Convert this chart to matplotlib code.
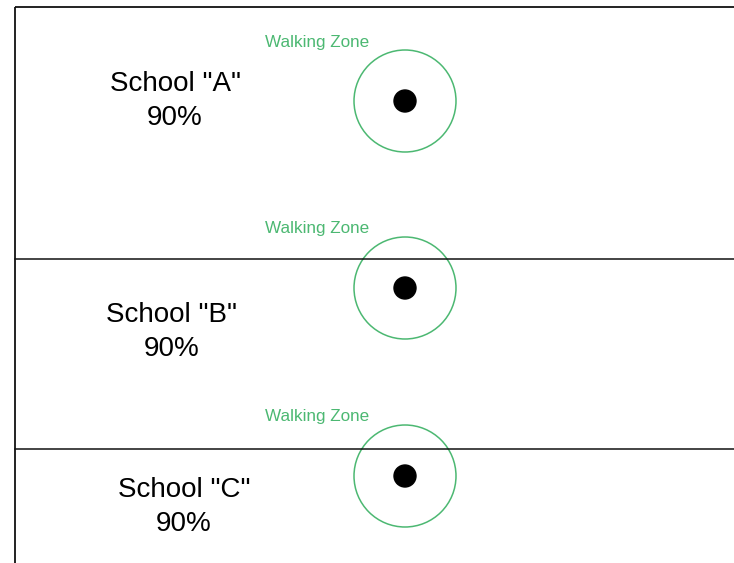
import matplotlib
matplotlib.use("Agg")
import matplotlib.pyplot as plt
from matplotlib.patches import Circle

plt.rcParams['font.family'] = ['Liberation Sans', 'DejaVu Sans']

# data
schools = ['A', 'B', 'C']
pct = [90, 90, 90]
zone_label = 'Walking Zone'

# layout in pixels (figure drawn 1:1 in pixel coords)
W, H = 734, 563
school_y = [101, 288, 476]
school_x = 405
label_x = [175, 172, 184]
label_y = [101, 332, 507]
divider_y = [259, 449]
zone_r = 51
dot_r = 11
green = '#4cb872'

fig = plt.figure(figsize=(W / 100, H / 100), dpi=100)
ax = fig.add_axes([0, 0, 1, 1])
ax.set_xlim(0, W)
ax.set_ylim(H, 0)
ax.set_aspect('equal')
ax.axis('off')

# frame: left and top edges
ax.plot([15, 15], [H, 6.5], color='#111111', lw=1.3, solid_capstyle='butt')
ax.plot([15, W], [6.5, 6.5], color='#111111', lw=1.3, solid_capstyle='butt')
for y in divider_y:
    ax.plot([15, W], [y, y], color='#111111', lw=1.1)

for name, p, sy, lx, ly in zip(schools, pct, school_y, label_x, label_y):
    ax.add_patch(Circle((school_x, sy), zone_r, fill=False, ec=green, lw=1.1))
    ax.add_patch(Circle((school_x, sy), dot_r, color='black'))
    ax.text(317, sy - 59, zone_label, color=green, fontsize=12.3,
            ha='center', va='center')
    ax.text(lx, ly, f'School "{name}"\n{p}%', fontsize=20, ha='center',
            va='center', linespacing=1.4)

fig.savefig('out.png', dpi=100)
